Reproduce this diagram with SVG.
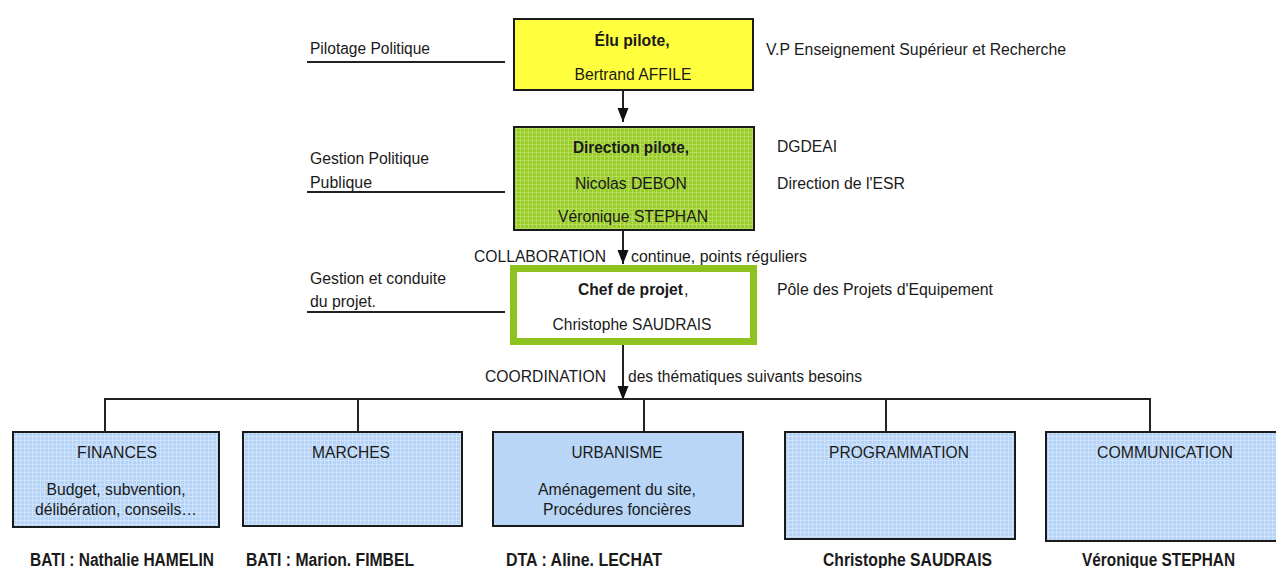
<svg xmlns="http://www.w3.org/2000/svg" width="1276" height="568" viewBox="0 0 1276 568">
  <style>
    text { font-family: "Liberation Sans", Arial, sans-serif; fill: #1a1a1a; }
    .t { font-size: 16px; }
    .b { font-size: 16px; font-weight: bold; }
    .bb { font-size: 18px; font-weight: bold; }
    .m { text-anchor: middle; }
    .box { stroke: #1a1a1a; stroke-width: 2; }
    .ln { stroke: #222; stroke-width: 2; fill: none; }
  </style>
  <defs>
    <pattern id="gridGreen" width="4" height="4" patternUnits="userSpaceOnUse">
      <rect width="4" height="4" fill="#9acd2a"/>
      <path d="M0 0.5H4M0.5 0V4" stroke="#b5dc5e" stroke-width="1"/>
    </pattern>
    <pattern id="gridBlue" width="4" height="4" patternUnits="userSpaceOnUse">
      <rect width="4" height="4" fill="#b5d3f6"/>
      <path d="M0 0.5H4M0.5 0V4" stroke="#cfe2f9" stroke-width="1"/>
    </pattern>
    <!-- filled triangular head, drawn along +x so orient="auto" follows the line -->
    <marker id="arrow" markerWidth="14" markerHeight="12" refX="14" refY="6" orient="auto" markerUnits="userSpaceOnUse" viewBox="0 0 14 12">
      <path d="M0 0.5L14 6L0 11.5Z" fill="#111"/>
    </marker>
  </defs>

  <!-- side captions with their rules -->
  <g id="captions-left">
    <text class="t" x="310" y="54" textLength="120" lengthAdjust="spacingAndGlyphs">Pilotage Politique</text>
    <text class="t" x="310" y="164" textLength="119" lengthAdjust="spacingAndGlyphs">Gestion Politique</text>
    <text class="t" x="310" y="188" textLength="62" lengthAdjust="spacingAndGlyphs">Publique</text>
    <text class="t" x="310" y="284" textLength="136" lengthAdjust="spacingAndGlyphs">Gestion et conduite</text>
    <text class="t" x="310" y="307" textLength="66" lengthAdjust="spacingAndGlyphs">du projet.</text>
    <path class="ln" d="M307 62H505M307 192H505M307 312H505"/>
  </g>

  <g id="captions-right">
    <text class="t" x="766" y="55" textLength="300" lengthAdjust="spacingAndGlyphs">V.P Enseignement Supérieur et Recherche</text>
    <text class="t" x="777" y="152" textLength="60" lengthAdjust="spacingAndGlyphs">DGDEAI</text>
    <text class="t" x="777" y="189" textLength="128" lengthAdjust="spacingAndGlyphs">Direction de l'ESR</text>
    <text class="t" x="777" y="295" textLength="216" lengthAdjust="spacingAndGlyphs">Pôle des Projets d'Equipement</text>
  </g>

  <!-- connectors -->
  <g id="connectors">
    <path class="ln" d="M623 91V122" marker-end="url(#arrow)"/>
    <path class="ln" d="M623 231V264" marker-end="url(#arrow)"/>
    <path class="ln" d="M623 345V400" marker-end="url(#arrow)"/>
    <path class="ln" d="M104 399H1151"/>
    <path class="ln" d="M105 399V432M358 399V432M644 399V432M886 399V432M1150 399V432"/>
    <text class="t" x="606" y="262" text-anchor="end" textLength="132" lengthAdjust="spacingAndGlyphs">COLLABORATION</text>
    <text class="t" x="631" y="262" textLength="176" lengthAdjust="spacingAndGlyphs">continue, points réguliers</text>
    <text class="t" x="606" y="382" text-anchor="end" textLength="121" lengthAdjust="spacingAndGlyphs">COORDINATION</text>
    <text class="t" x="628" y="382" textLength="234" lengthAdjust="spacingAndGlyphs">des thématiques suivants besoins</text>
  </g>

  <g id="elu-pilote">
    <rect class="box" x="514" y="19" width="239" height="71" fill="#ffff3e"/>
    <text class="b m" x="632" y="46" textLength="75" lengthAdjust="spacingAndGlyphs">Élu pilote,</text>
    <text class="t m" x="633" y="80" textLength="117" lengthAdjust="spacingAndGlyphs">Bertrand AFFILE</text>
  </g>

  <g id="direction-pilote">
    <rect class="box" x="514" y="127" width="240" height="103" fill="url(#gridGreen)"/>
    <text class="b m" x="631" y="153" textLength="116" lengthAdjust="spacingAndGlyphs">Direction pilote,</text>
    <text class="t m" x="631" y="189" textLength="112" lengthAdjust="spacingAndGlyphs">Nicolas DEBON</text>
    <text class="t m" x="633" y="222" textLength="150" lengthAdjust="spacingAndGlyphs">Véronique STEPHAN</text>
  </g>

  <g id="chef-de-projet">
    <rect x="513.5" y="268.5" width="240" height="73" fill="#ffffff" stroke="#8dc21f" stroke-width="7"/>
    <text class="b" x="578" y="295" textLength="105" lengthAdjust="spacingAndGlyphs">Chef de projet</text>
    <text class="t" x="684" y="295">,</text>
    <text class="t m" x="632" y="330" textLength="159" lengthAdjust="spacingAndGlyphs">Christophe SAUDRAIS</text>
  </g>

  <g id="finances">
    <rect class="box" x="13" y="432" width="206" height="95" fill="url(#gridBlue)"/>
    <text class="t m" x="117" y="458" textLength="80" lengthAdjust="spacingAndGlyphs">FINANCES</text>
    <text class="t m" x="116" y="495" textLength="139" lengthAdjust="spacingAndGlyphs">Budget, subvention,</text>
    <text class="t m" x="116" y="515" textLength="162" lengthAdjust="spacingAndGlyphs">délibération, conseils…</text>
  </g>

  <g id="marches">
    <rect class="box" x="243" y="432" width="219" height="94" fill="url(#gridBlue)"/>
    <text class="t m" x="351" y="458" textLength="78" lengthAdjust="spacingAndGlyphs">MARCHES</text>
  </g>

  <g id="urbanisme">
    <rect class="box" x="493" y="432" width="250" height="94" fill="#b9d6f7"/>
    <text class="t m" x="617" y="458" textLength="91" lengthAdjust="spacingAndGlyphs">URBANISME</text>
    <text class="t m" x="617" y="495" textLength="158" lengthAdjust="spacingAndGlyphs">Aménagement du site,</text>
    <text class="t m" x="617" y="515" textLength="148" lengthAdjust="spacingAndGlyphs">Procédures foncières</text>
  </g>

  <g id="programmation">
    <rect class="box" x="785" y="432" width="230" height="107" fill="url(#gridBlue)"/>
    <text class="t m" x="899" y="458" textLength="140" lengthAdjust="spacingAndGlyphs">PROGRAMMATION</text>
  </g>

  <g id="communication">
    <rect class="box" x="1046" y="432" width="240" height="109" fill="url(#gridBlue)"/>
    <text class="t m" x="1165" y="458" textLength="136" lengthAdjust="spacingAndGlyphs">COMMUNICATION</text>
  </g>

  <!-- people in charge, under each theme -->
  <g id="referents">
    <text class="bb" x="30" y="566" textLength="184" lengthAdjust="spacingAndGlyphs">BATI : Nathalie HAMELIN</text>
    <text class="bb" x="246" y="566" textLength="168" lengthAdjust="spacingAndGlyphs">BATI : Marion. FIMBEL</text>
    <text class="bb" x="506" y="566" textLength="156" lengthAdjust="spacingAndGlyphs">DTA : Aline. LECHAT</text>
    <text class="bb" x="823" y="566" textLength="169" lengthAdjust="spacingAndGlyphs">Christophe SAUDRAIS</text>
    <text class="bb" x="1082" y="566" textLength="153" lengthAdjust="spacingAndGlyphs">Véronique STEPHAN</text>
  </g>
</svg>
